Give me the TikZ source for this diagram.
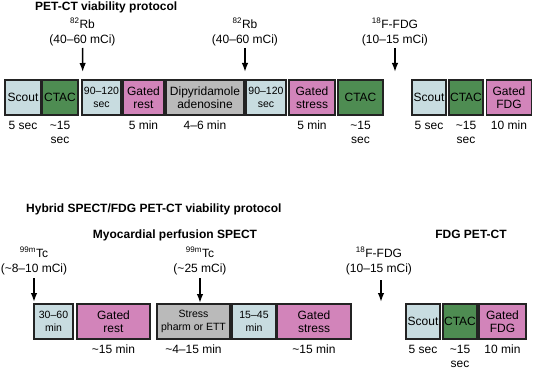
\documentclass[tikz,border=0pt]{standalone}
\usepackage{fontspec}
\setmainfont{Liberation Sans}
\usepackage{tikz}
\usetikzlibrary{positioning,arrows.meta}
\definecolor{Cscan}{RGB}{200,220,224}
\definecolor{Cctac}{RGB}{78,140,82}
\definecolor{Cgate}{RGB}{210,132,186}
\definecolor{Cdrug}{RGB}{186,186,186}
\definecolor{Cline}{RGB}{35,35,35}

\begin{document}
\begin{tikzpicture}[x=1pt, y=-1pt,
      box/.style={draw=Cline, line width=1.4pt, minimum height=35pt,
                  inner sep=0pt, align=center, font=\fontsize{12}{13}\selectfont},
      scan/.style={box, fill=Cscan},
      ctac/.style={box, fill=Cctac},
      gate/.style={box, fill=Cgate},
      drug/.style={box, fill=Cdrug},
      small/.style={font=\fontsize{10.5}{12.5}\selectfont},
      lab/.style={inner sep=0pt, align=center, font=\fontsize{12}{14}\selectfont},
      dose/.style={inner sep=0pt, align=center, font=\fontsize{12}{15}\selectfont},
      ttl/.style={inner sep=0pt, anchor=base west, font=\fontsize{12}{14}\selectfont\bfseries},
      arr/.style={black, line width=1.5pt, -{Latex[length=9pt,width=6.5pt]}}]
    \useasboundingbox (0,0) rectangle (533,369);
    % PET-CT
    \node[ttl] (T1) at (35,10.5) {PET-CT viability protocol};
    \node[scan, minimum width=36pt] (P1) at (23,97.5)    {Scout};
    \node[ctac, minimum width=36pt] (P2) at (60,97.5)    {CTAC};
    \node[scan, small, minimum width=39pt] (P3) at (101.5,97.5) {90--120\\sec};
    \node[gate, minimum width=41pt] (P4) at (143.5,97.5) {Gated\\rest};
    \node[drug, minimum width=78pt] (P5) at (205,97.5)   {Dipyridamole\\adenosine};
    \node[scan, small, minimum width=40pt] (P6) at (266,97.5) {90--120\\sec};
    \node[gate, minimum width=46pt] (P7) at (312,97.5)   {Gated\\stress};
    \node[ctac, minimum width=45pt] (P8) at (360.5,97.5) {CTAC};
    \node[scan, minimum width=34pt] (P9) at (429,97.5)   {Scout};
    \node[ctac, minimum width=34pt] (P10) at (466,97.5)  {CTAC};
    \node[gate, minimum width=45pt] (P11) at (509,97.5)  {Gated\\FDG};
    % tiempos
    \node[lab, below=5pt of P1]  {5 sec};
    \node[lab, below=5pt of P2]  {\textasciitilde15\\sec};
    \node[lab, below=5pt of P4]  {5 min};
    \node[lab, below=5pt of P5]  {4--6 min};
    \node[lab, below=5pt of P7]  {5 min};
    \node[lab, below=5pt of P8]  {\textasciitilde15\\sec};
    \node[lab, below=5pt of P9]  {5 sec};
    \node[lab, below=5pt of P10] {\textasciitilde15\\sec};
    \node[lab, below=5pt of P11] {10 min};
    % dosis
    \node[dose] (D1) at (82.5,32) {\textsuperscript{82}Rb\\(40--60 mCi)};
    \node[dose] (D2) at (245,32)  {\textsuperscript{82}Rb\\(40--60 mCi)};
    \node[dose] (D3) at (395,32)  {\textsuperscript{18}F-FDG\\(10--15 mCi)};
    \coordinate (A1) at (82.7,72);
    \coordinate (A2) at (245,72);
    \coordinate (A3) at (395,72);
    \draw[arr] (D1.south |- 0,48) -- (A1);
    \draw[arr] (D2.south |- 0,48) -- (A2);
    \draw[arr] (D3.south |- 0,48) -- (A3);

    % SPECT/FDG
    \node[ttl] (T2) at (26,212) {Hybrid SPECT/FDG PET-CT viability protocol};
    \node[ttl, anchor=base] (T3) at (175,238) {Myocardial perfusion SPECT};
    \node[ttl, anchor=base] (T4) at (471,238) {FDG PET-CT};
    \node[scan, small, minimum width=39pt] (S1) at (53.5,321.5) {30--60\\min};
    \node[gate, minimum width=73pt] (S2) at (113.5,321.5) {Gated\\rest};
    \node[drug, small, minimum width=73pt] (S3) at (193.5,321.5) {Stress\\pharm or ETT};
    \node[scan, small, minimum width=44pt] (S4) at (254,321.5) {15--45\\min};
    \node[gate, minimum width=74pt] (S5) at (314,321.5) {Gated\\stress};
    \node[scan, minimum width=34pt] (S6) at (423,321.5) {Scout};
    \node[ctac, minimum width=34pt] (S7) at (460,321.5) {CTAC};
    \node[gate, minimum width=47pt] (S8) at (502.5,321.5) {Gated\\FDG};
    % tiempos
    \node[lab, below=5pt of S2] {\textasciitilde15 min};
    \node[lab, below=5pt of S3] {\textasciitilde4--15 min};
    \node[lab, below=5pt of S5] {\textasciitilde15 min};
    \node[lab, below=5pt of S6] {5 sec};
    \node[lab, below=5pt of S7] {\textasciitilde15\\sec};
    \node[lab, below=5pt of S8] {10 min};
    % dosis
    \node[dose] (E1) at (34,261)  {\textsuperscript{99m}Tc\\(\textasciitilde8--10 mCi)};
    \node[dose] (E2) at (200,261) {\textsuperscript{99m}Tc\\(\textasciitilde25 mCi)};
    \node[dose] (E3) at (379,261) {\textsuperscript{18}F-FDG\\(10--15 mCi)};
    \coordinate (B1) at (34,302);
    \coordinate (B2) at (200,303);
    \coordinate (B3) at (381,302);
    \draw[arr] (E1.south |- 0,278) -- (B1);
    \draw[arr] (E2.south |- 0,278) -- (B2);
    \draw[arr] (B3 |- 0,280) -- (B3);
\end{tikzpicture}
\end{document}
